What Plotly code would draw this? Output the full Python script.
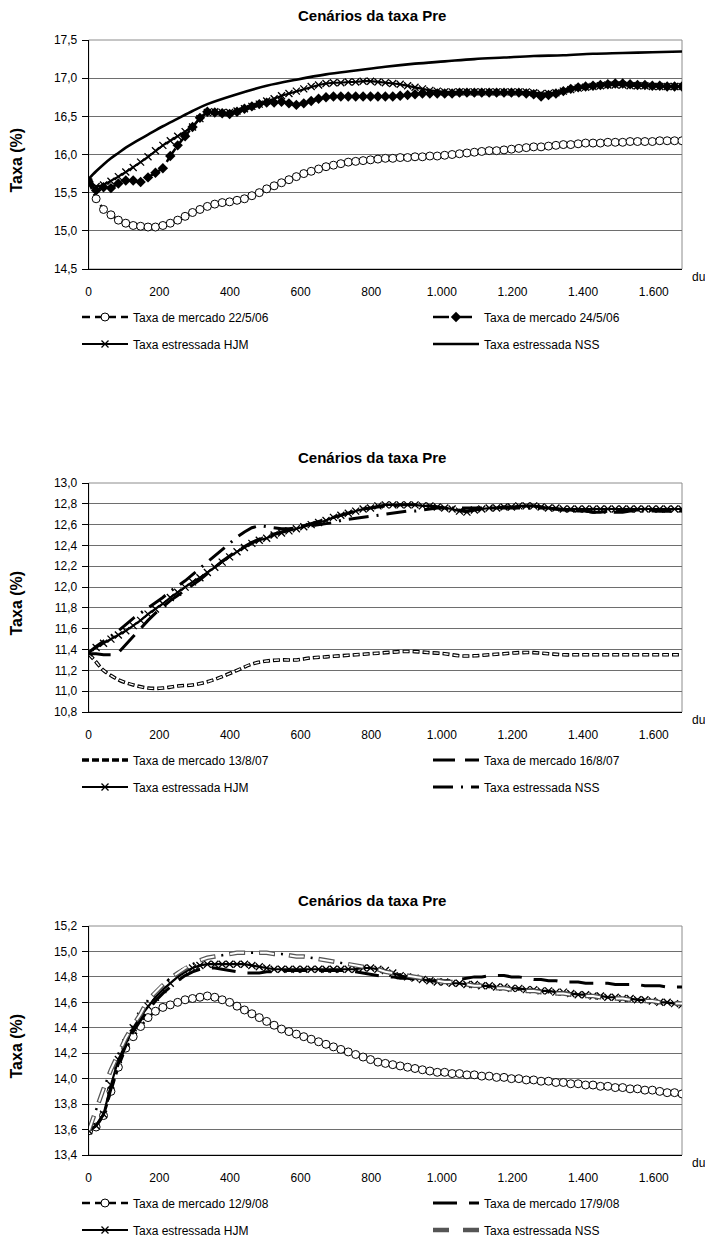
import plotly.graph_objects as go

# ---------------- data ----------------
DU = [0, 21, 42, 63, 84, 105, 126, 147, 168, 189,
      210, 231, 252, 273, 294, 315, 336, 357, 378, 399,
      420, 441, 462, 483, 504, 525, 546, 567, 588, 609,
      630, 651, 672, 693, 714, 735, 756, 777, 798, 819,
      840, 861, 882, 903, 924, 945, 966, 987, 1008, 1029,
      1050, 1071, 1092, 1113, 1134, 1155, 1176, 1197, 1218, 1239,
      1260, 1281, 1302, 1323, 1344, 1365, 1386, 1407, 1428, 1449,
      1470, 1491, 1512, 1533, 1554, 1575, 1596, 1617, 1638, 1659,
      1680]

X_TICKS = [0, 200, 400, 600, 800, 1000, 1200, 1400, 1600]

# Chart 1
C1_MKT_22_5 = [15.64, 15.42, 15.28, 15.21, 15.14, 15.10, 15.07, 15.06, 15.05, 15.05,
               15.07, 15.10, 15.14, 15.19, 15.24, 15.28, 15.32, 15.35, 15.37, 15.38,
               15.40, 15.42, 15.46, 15.50, 15.55, 15.59, 15.63, 15.67, 15.71, 15.75,
               15.78, 15.81, 15.84, 15.86, 15.88, 15.90, 15.91, 15.92, 15.93, 15.94,
               15.95, 15.95, 15.96, 15.96, 15.97, 15.97, 15.98, 15.98, 15.99, 16.00,
               16.01, 16.02, 16.03, 16.04, 16.05, 16.05, 16.06, 16.07, 16.08, 16.09,
               16.10, 16.10, 16.11, 16.12, 16.13, 16.13, 16.14, 16.15, 16.15, 16.15,
               16.16, 16.16, 16.16, 16.17, 16.17, 16.17, 16.17, 16.18, 16.18, 16.18,
               16.18]
C1_MKT_24_5 = [15.64, 15.53, 15.57, 15.56, 15.62, 15.66, 15.66, 15.64, 15.70, 15.76,
               15.82, 15.98, 16.12, 16.24, 16.36, 16.48, 16.56, 16.55, 16.54, 16.53,
               16.56, 16.60, 16.63, 16.66, 16.68, 16.68, 16.69, 16.67, 16.65, 16.67,
               16.70, 16.73, 16.75, 16.76, 16.76, 16.76, 16.76, 16.76, 16.76, 16.76,
               16.76, 16.76, 16.77, 16.78, 16.79, 16.80, 16.80, 16.80, 16.80, 16.80,
               16.81, 16.81, 16.81, 16.81, 16.81, 16.81, 16.81, 16.81, 16.81, 16.80,
               16.79, 16.76, 16.78, 16.80, 16.83, 16.86, 16.88, 16.89, 16.90, 16.91,
               16.92, 16.93, 16.93, 16.92, 16.91, 16.91, 16.90, 16.90, 16.89, 16.89,
               16.89]
C1_HJM = [15.64, 15.58, 15.60, 15.65, 15.71, 15.77, 15.83, 15.90, 15.97, 16.05,
          16.12, 16.18, 16.24, 16.30, 16.36, 16.47, 16.55, 16.56, 16.55, 16.55,
          16.57, 16.60, 16.63, 16.66, 16.70, 16.73, 16.77, 16.80, 16.83, 16.86,
          16.89, 16.91, 16.93, 16.94, 16.94, 16.95, 16.95, 16.96, 16.96, 16.95,
          16.94, 16.93, 16.92, 16.90, 16.88, 16.86, 16.84, 16.83, 16.82, 16.82,
          16.82, 16.82, 16.82, 16.82, 16.82, 16.82, 16.82, 16.82, 16.82, 16.82,
          16.81, 16.80, 16.80, 16.81, 16.83, 16.85, 16.87, 16.88, 16.89, 16.90,
          16.91, 16.91, 16.91, 16.90, 16.90, 16.90, 16.89, 16.89, 16.89, 16.89,
          16.89]
C1_NSS_DU = [0, 21, 42, 63, 84, 105, 126, 168, 210, 252, 294, 336, 420, 504,
             588, 672, 756, 840, 924, 1008, 1092, 1176, 1260, 1344, 1428, 1512,
             1596, 1680]
C1_NSS = [15.68, 15.78, 15.87, 15.95, 16.02, 16.09, 16.15, 16.26, 16.37, 16.47,
          16.57, 16.66, 16.79, 16.90, 16.98, 17.05, 17.10, 17.15, 17.19, 17.22,
          17.25, 17.27, 17.29, 17.30, 17.32, 17.33, 17.34, 17.35]

# Chart 2
C2_MKT_13_8_DU = [0, 21, 42, 84, 126, 168, 210, 252, 294, 336, 378, 420, 462,
                  504, 546, 588, 630, 672, 714, 756, 798, 840, 882, 924, 966,
                  1008, 1050, 1092, 1134, 1176, 1218, 1260, 1302, 1344, 1386,
                  1428, 1470, 1512, 1554, 1596, 1638, 1680]
C2_MKT_13_8 = [11.36, 11.28, 11.20, 11.11, 11.06, 11.03, 11.03, 11.05, 11.06, 11.09,
               11.14, 11.20, 11.26, 11.29, 11.30, 11.30, 11.32, 11.33, 11.34, 11.35,
               11.36, 11.37, 11.38, 11.38, 11.37, 11.36, 11.34, 11.34, 11.35, 11.36,
               11.37, 11.37, 11.36, 11.35, 11.35, 11.35, 11.35, 11.35, 11.35, 11.35,
               11.35, 11.35]
C2_MKT_16_8 = [11.36, 11.36, 11.35, 11.35, 11.37, 11.45, 11.53, 11.61, 11.68, 11.75,
               11.81, 11.87, 11.92, 11.97, 12.02, 12.07, 12.13, 12.19, 12.25, 12.30,
               12.35, 12.39, 12.43, 12.46, 12.49, 12.51, 12.53, 12.55, 12.57, 12.59,
               12.61, 12.63, 12.65, 12.67, 12.69, 12.71, 12.73, 12.75, 12.76, 12.77,
               12.78, 12.78, 12.79, 12.79, 12.79, 12.78, 12.78, 12.77, 12.76, 12.75,
               12.74, 12.73, 12.74, 12.75, 12.76, 12.76, 12.77, 12.77, 12.77, 12.78,
               12.78, 12.77, 12.76, 12.75, 12.74, 12.74, 12.73, 12.73, 12.72, 12.72,
               12.73, 12.73, 12.74, 12.74, 12.74, 12.74, 12.74, 12.73, 12.73, 12.73,
               12.73]
C2_HJM = [11.37, 11.42, 11.46, 11.50, 11.54, 11.58, 11.63, 11.68, 11.74, 11.79,
          11.84, 11.90, 11.95, 12.00, 12.05, 12.09, 12.14, 12.19, 12.24, 12.29,
          12.34, 12.38, 12.42, 12.45, 12.47, 12.50, 12.52, 12.54, 12.56, 12.58,
          12.60, 12.62, 12.64, 12.67, 12.69, 12.71, 12.73, 12.75, 12.76, 12.78,
          12.79, 12.79, 12.79, 12.79, 12.79, 12.78, 12.78, 12.77, 12.76, 12.75,
          12.73, 12.72, 12.74, 12.75, 12.76, 12.76, 12.77, 12.77, 12.78, 12.78,
          12.78, 12.77, 12.76, 12.76, 12.75, 12.75, 12.75, 12.75, 12.75, 12.75,
          12.75, 12.75, 12.75, 12.75, 12.75, 12.75, 12.75, 12.75, 12.75, 12.75,
          12.75]
C2_NSS = [11.37, 11.43, 11.48, 11.53, 11.58, 11.64, 11.70, 11.75, 11.80, 11.85,
          11.90, 11.96, 12.01, 12.06, 12.12, 12.18, 12.24, 12.30, 12.36, 12.42,
          12.48, 12.53, 12.57, 12.59, 12.58, 12.57, 12.56, 12.56, 12.57, 12.58,
          12.59, 12.60, 12.61, 12.62, 12.64, 12.65, 12.66, 12.67, 12.68, 12.69,
          12.70, 12.71, 12.72, 12.73, 12.73, 12.74, 12.75, 12.76, 12.76, 12.76,
          12.76, 12.76, 12.76, 12.76, 12.76, 12.76, 12.76, 12.76, 12.76, 12.76,
          12.76, 12.76, 12.76, 12.75, 12.74, 12.74, 12.73, 12.73, 12.72, 12.72,
          12.72, 12.72, 12.72, 12.73, 12.73, 12.73, 12.73, 12.73, 12.73, 12.73,
          12.73]

# Chart 3
C3_MKT_12_9 = [13.59, 13.62, 13.71, 13.90, 14.09, 14.24, 14.33, 14.41, 14.48, 14.53,
               14.56, 14.58, 14.60, 14.62, 14.63, 14.64, 14.65, 14.64, 14.62, 14.60,
               14.57, 14.54, 14.51, 14.48, 14.45, 14.42, 14.39, 14.37, 14.35, 14.33,
               14.31, 14.29, 14.27, 14.25, 14.23, 14.21, 14.19, 14.17, 14.15, 14.13,
               14.12, 14.11, 14.10, 14.09, 14.08, 14.07, 14.06, 14.05, 14.05, 14.04,
               14.04, 14.03, 14.03, 14.02, 14.02, 14.01, 14.01, 14.00, 14.00, 13.99,
               13.99, 13.98, 13.98, 13.97, 13.97, 13.96, 13.96, 13.95, 13.95, 13.94,
               13.94, 13.93, 13.93, 13.92, 13.92, 13.91, 13.91, 13.90, 13.89, 13.89,
               13.88]
C3_MKT_17_9 = [13.59, 13.63, 13.72, 13.92, 14.12, 14.26, 14.37, 14.46, 14.54, 14.61,
               14.67, 14.72, 14.77, 14.81, 14.84, 14.86, 14.87, 14.87, 14.86, 14.85,
               14.84, 14.83, 14.83, 14.83, 14.84, 14.84, 14.85, 14.85, 14.85, 14.85,
               14.85, 14.85, 14.85, 14.85, 14.85, 14.85, 14.84, 14.83, 14.82, 14.81,
               14.80, 14.80, 14.79, 14.79, 14.78, 14.78, 14.77, 14.77, 14.77, 14.77,
               14.78, 14.79, 14.80, 14.80, 14.81, 14.81, 14.81, 14.80, 14.80, 14.79,
               14.78, 14.78, 14.77, 14.77, 14.76, 14.76, 14.76, 14.75, 14.75, 14.75,
               14.75, 14.74, 14.74, 14.74, 14.74, 14.73, 14.73, 14.73, 14.72, 14.72,
               14.72]
C3_HJM = [13.59, 13.63, 13.72, 13.95, 14.15, 14.28, 14.40, 14.49, 14.57, 14.64,
          14.70, 14.75, 14.80, 14.84, 14.87, 14.89, 14.90, 14.90, 14.90, 14.90,
          14.90, 14.90, 14.89, 14.88, 14.87, 14.86, 14.86, 14.86, 14.86, 14.86,
          14.86, 14.86, 14.86, 14.86, 14.86, 14.86, 14.86, 14.87, 14.87, 14.86,
          14.85, 14.83, 14.81, 14.80, 14.79, 14.78, 14.77, 14.76, 14.76, 14.75,
          14.75, 14.74, 14.74, 14.73, 14.73, 14.72, 14.72, 14.71, 14.71, 14.70,
          14.70, 14.69, 14.69, 14.68, 14.68, 14.67, 14.66, 14.66, 14.65, 14.65,
          14.64, 14.64, 14.63, 14.63, 14.62, 14.62, 14.61, 14.60, 14.60, 14.59,
          14.58]
C3_NSS = [13.59, 13.76, 13.92, 14.07, 14.20, 14.32, 14.42, 14.51, 14.62, 14.68,
          14.74, 14.79, 14.83, 14.87, 14.90, 14.93, 14.95, 14.96, 14.97, 14.98,
          14.99, 14.99, 14.99, 14.99, 14.99, 14.98, 14.98, 14.97, 14.96, 14.96,
          14.95, 14.94, 14.93, 14.92, 14.91, 14.90, 14.89, 14.88, 14.87, 14.86,
          14.84, 14.83, 14.82, 14.81, 14.80, 14.79, 14.78, 14.77, 14.76, 14.76,
          14.75, 14.74, 14.73, 14.73, 14.72, 14.71, 14.71, 14.70, 14.70, 14.69,
          14.69, 14.68, 14.68, 14.67, 14.67, 14.66, 14.66, 14.65, 14.65, 14.64,
          14.64, 14.63, 14.63, 14.62, 14.62, 14.61, 14.61, 14.60, 14.60, 14.59,
          14.59]

TITLE = "Cenários da taxa Pre"
Y_TITLE = "Taxa (%)"
X_UNIT = "du"
NAMES_1 = ["Taxa de mercado 22/5/06", "Taxa de mercado 24/5/06",
           "Taxa estressada HJM", "Taxa estressada NSS"]
NAMES_2 = ["Taxa de mercado 13/8/07", "Taxa de mercado 16/8/07",
           "Taxa estressada HJM", "Taxa estressada NSS"]
NAMES_3 = ["Taxa de mercado 12/9/08", "Taxa de mercado 17/9/08",
           "Taxa estressada HJM", "Taxa estressada NSS"]

# ---------------- layout geometry (pixels) ----------------
W, H = 705, 1241
FONT = "Liberation Sans, Arial, Helvetica, sans-serif"
PLOT_L, PLOT_R = 88.7, 682
CHARTS = [  # top, bottom, y range, dtick, title y, legend rows y
    dict(top=40, bot=269, rng=[14.5, 17.5], dtick=0.5, ty=15, rows=(317, 344)),
    dict(top=483, bot=712, rng=[10.8, 13.0], dtick=0.2, ty=458, rows=(760, 787)),
    dict(top=926, bot=1155, rng=[13.4, 15.2], dtick=0.2, ty=900, rows=(1203, 1230)),
]
COL_X = (77, 428)


def py(p):
    return 1 - p / H


def pxx(p):
    return p / W


fig = go.Figure()
legend_cfg = {}
legend_count = [0]


def new_legend(col, row_y):
    legend_count[0] += 1
    n = legend_count[0]
    key = "legend" if n == 1 else f"legend{n}"
    legend_cfg[key] = dict(
        x=pxx(COL_X[col]), y=py(row_y), xanchor="left", yanchor="middle",
        orientation="h", bgcolor="rgba(0,0,0,0)", borderwidth=0,
        font=dict(family=FONT, size=12, color="black"), itemwidth=46,
        traceorder="normal")
    return key


def axes_ids(i):
    return ("x" if i == 0 else f"x{i+1}", "y" if i == 0 else f"y{i+1}")


XMK = dict(symbol="x-thin-open", size=7, color="black",
           line=dict(width=1.3, color="black"))

for i, c in enumerate(CHARTS):
    xa, ya = axes_ids(i)
    r1, r2 = c["rows"]
    leg = [new_legend(0, r1), new_legend(1, r1), new_legend(0, r2), new_legend(1, r2)]

    if i == 0:
        fig.add_trace(go.Scatter(
            x=DU, y=C1_MKT_22_5, name=NAMES_1[0], xaxis=xa, yaxis=ya, legend=leg[0],
            mode="lines+markers", line=dict(color="black", width=2.5, dash="8px,5px"),
            marker=dict(symbol="circle", size=8, color="white",
                        line=dict(color="black", width=1))))
        fig.add_trace(go.Scatter(
            x=DU, y=C1_MKT_24_5, name=NAMES_1[1], xaxis=xa, yaxis=ya, legend=leg[1],
            mode="lines+markers", line=dict(color="black", width=2.5, dash="16px,7px"),
            marker=dict(symbol="diamond", size=8, color="black")))
        fig.add_trace(go.Scatter(
            x=DU, y=C1_HJM, name=NAMES_1[2], xaxis=xa, yaxis=ya, legend=leg[2],
            mode="lines+markers", line=dict(color="black", width=2.2), marker=XMK))
        fig.add_trace(go.Scatter(
            x=C1_NSS_DU, y=C1_NSS, name=NAMES_1[3], xaxis=xa, yaxis=ya, legend=leg[3],
            mode="lines", line=dict(color="black", width=2.6, shape="spline")))
    elif i == 1:
        fig.add_trace(go.Scatter(
            x=C2_MKT_13_8_DU, y=C2_MKT_13_8, name=NAMES_2[0], xaxis=xa, yaxis=ya,
            legend=leg[0], mode="lines",
            line=dict(color="black", width=3.6, dash="7px,3px", shape="spline")))
        fig.add_trace(go.Scatter(
            x=C2_MKT_13_8_DU, y=C2_MKT_13_8, xaxis=xa, yaxis=ya, showlegend=False,
            hoverinfo="skip", mode="lines",
            line=dict(color="white", width=1.4, dash="0px,1px,5px,4px", shape="spline")))
        fig.add_trace(go.Scatter(
            x=DU, y=C2_MKT_16_8, name=NAMES_2[1], xaxis=xa, yaxis=ya, legend=leg[1],
            mode="lines", line=dict(color="black", width=3, dash="22px,10px")))
        fig.add_trace(go.Scatter(
            x=DU, y=C2_HJM, name=NAMES_2[2], xaxis=xa, yaxis=ya, legend=leg[2],
            mode="lines+markers", line=dict(color="black", width=2.2), marker=XMK))
        fig.add_trace(go.Scatter(
            x=DU, y=C2_NSS, name=NAMES_2[3], xaxis=xa, yaxis=ya, legend=leg[3],
            mode="lines", line=dict(color="black", width=3, dash="20px,8px,2px,8px")))
    else:
        fig.add_trace(go.Scatter(
            x=DU, y=C3_MKT_12_9, name=NAMES_3[0], xaxis=xa, yaxis=ya, legend=leg[0],
            mode="lines+markers", line=dict(color="black", width=2.5, dash="8px,5px"),
            marker=dict(symbol="circle", size=8, color="white",
                        line=dict(color="black", width=1))))
        fig.add_trace(go.Scatter(
            x=DU, y=C3_MKT_17_9, name=NAMES_3[1], xaxis=xa, yaxis=ya, legend=leg[1],
            mode="lines", line=dict(color="black", width=3, dash="24px,12px")))
        fig.add_trace(go.Scatter(
            x=DU, y=C3_HJM, name=NAMES_3[2], xaxis=xa, yaxis=ya, legend=leg[2],
            mode="lines+markers", line=dict(color="black", width=2.2), marker=XMK))
        fig.add_trace(go.Scatter(
            x=DU, y=C3_NSS, name=NAMES_3[3], xaxis=xa, yaxis=ya, legend=leg[3],
            mode="lines", line=dict(color="#555555", width=4.5, dash="16px,14px")))
        fig.add_trace(go.Scatter(
            x=DU, y=C3_NSS, xaxis=xa, yaxis=ya, showlegend=False, hoverinfo="skip",
            mode="lines", line=dict(color="white", width=2, dash="0px,1px,14px,15px")))
        fig.add_trace(go.Scatter(
            x=DU, y=C3_NSS, xaxis=xa, yaxis=ya, showlegend=False, hoverinfo="skip",
            mode="lines", line=dict(color="black", width=2.5, dash="0px,22px,2px,6px")))

layout = dict(
    width=W, height=H, margin=dict(l=0, r=0, t=0, b=0, autoexpand=False),
    paper_bgcolor="white", plot_bgcolor="white", separators=",.",
    font=dict(family=FONT, size=12, color="black"), showlegend=True,
    annotations=[], shapes=[],
)

for i, c in enumerate(CHARTS):
    xa, ya = axes_ids(i)
    xkey = "xaxis" if i == 0 else f"xaxis{i+1}"
    ykey = "yaxis" if i == 0 else f"yaxis{i+1}"
    layout[xkey] = dict(
        domain=[pxx(PLOT_L), pxx(PLOT_R)], range=[0, 1680], anchor=ya,
        tickmode="array", tickvals=X_TICKS, tickformat=",d",
        showgrid=False, zeroline=False, showline=True, linecolor="black",
        linewidth=1, ticks="", ticklabelstandoff=12,
        tickfont=dict(family=FONT, size=12, color="black"))
    layout[ykey] = dict(
        domain=[py(c["bot"]), py(c["top"])], range=c["rng"], anchor=xa,
        tick0=c["rng"][0], dtick=c["dtick"], tickformat=".1f",
        showgrid=True, gridcolor="#6e6e6e", gridwidth=1, zeroline=False,
        showline=True, linecolor="black", linewidth=1,
        ticks="outside", ticklen=6, tickcolor="black", ticklabelstandoff=2,
        tickfont=dict(family=FONT, size=12, color="black"))
    # plot frame (top / right in gray)
    layout["shapes"].append(dict(
        type="rect", xref=f"{xa} domain", yref=f"{ya} domain",
        x0=0, x1=1, y0=0, y1=1, line=dict(color="#8c8c8c", width=1),
        fillcolor="rgba(0,0,0,0)", layer="below"))
    # chart title
    layout["annotations"].append(dict(
        text=f"<b>{TITLE}</b>", xref="paper", yref="paper",
        x=pxx(372), y=py(c["ty"]), xanchor="center", yanchor="middle",
        showarrow=False, font=dict(family=FONT, size=15, color="black")))
    # y title
    layout["annotations"].append(dict(
        text=f"<b>{Y_TITLE}</b>", xref="paper", yref="paper",
        x=pxx(16), y=py((c["top"] + c["bot"]) / 2 + 6), xanchor="center",
        yanchor="middle", textangle=-90, showarrow=False,
        font=dict(family=FONT, size=16, color="black")))
    # x unit
    layout["annotations"].append(dict(
        text=X_UNIT, xref="paper", yref="paper",
        x=pxx(698), y=py(c["bot"] + 8), xanchor="center", yanchor="middle",
        showarrow=False, font=dict(family=FONT, size=12, color="black")))

layout.update(legend_cfg)
fig.update_layout(**layout)
fig.write_html("out.html")
